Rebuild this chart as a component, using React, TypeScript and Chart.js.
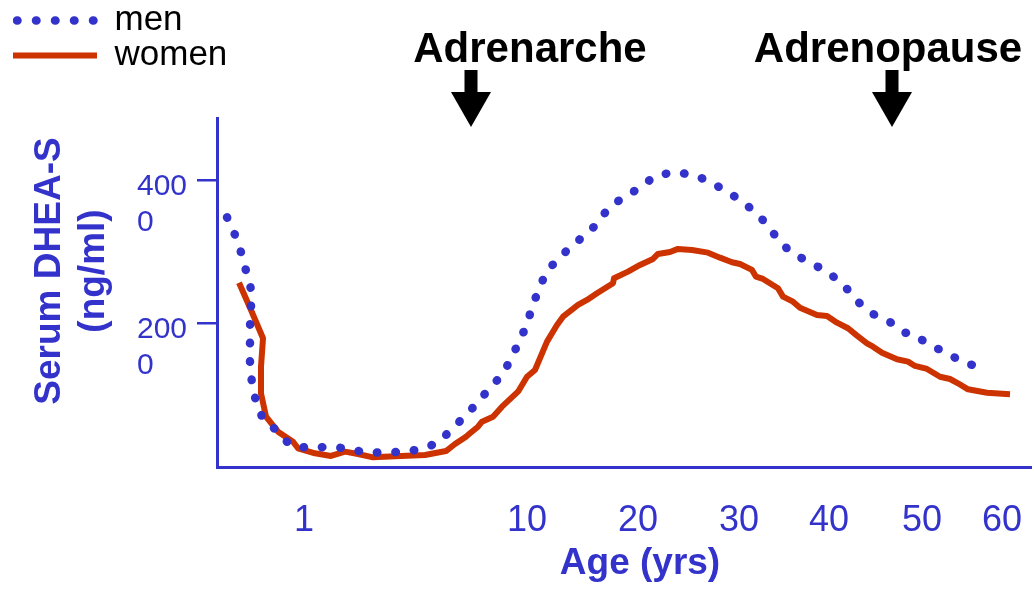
import React, { useEffect, useRef } from 'react';
import { Chart, registerables } from 'chart.js';

Chart.register(...registerables);

// ---- data (x = position along the non-linear age axis, y = serum DHEA-S) ----
const seriesNames = ['men', 'women'];

const menAgePos = [10, 18, 24, 29, 34, 34, 33, 33, 33, 35, 39, 46, 61, 73, 93, 110, 129, 148, 167, 186, 204, 221, 234, 248, 260, 272, 285, 294, 302, 310, 315, 322, 329, 342, 356, 370, 381, 391, 406, 424, 437, 455, 474, 492, 508, 525, 536, 551, 561, 574, 590, 607, 622, 632, 642, 656, 674, 688, 697, 712, 730, 746, 765];
const menDhea = [3485, 3238, 2997, 2740, 2480, 2223, 1958, 1693, 1433, 1168, 911, 670, 493, 307, 261, 283, 261, 205, 200, 214, 247, 339, 516, 712, 889, 1089, 1284, 1507, 1749, 1986, 2237, 2480, 2717, 2921, 3094, 3266, 3401, 3611, 3759, 3904, 4052, 4113, 4085, 3992, 3856, 3713, 3577, 3378, 3168, 2997, 2875, 2750, 2600, 2456, 2293, 2135, 2014, 1874, 1852, 1703, 1595, 1456, 1392];

const womenAgePos = [22, 34, 46, 44, 44, 49, 61, 76, 81, 98, 114, 128, 141, 156, 184, 208, 229, 238, 249, 253, 261, 265, 276, 285, 301, 310, 318, 330, 340, 346, 361, 370, 380, 388, 396, 397, 411, 423, 436, 441, 453, 461, 475, 491, 503, 515, 523, 535, 539, 546, 561, 566, 576, 583, 600, 610, 620, 631, 640, 650, 656, 665, 680, 691, 698, 710, 723, 733, 741, 751, 770, 793];
const womenDhea = [2572, 2191, 1796, 1400, 1029, 702, 493, 353, 261, 191, 154, 214, 181, 135, 154, 167, 223, 321, 423, 470, 562, 632, 702, 842, 1051, 1260, 1354, 1749, 1982, 2098, 2261, 2331, 2424, 2494, 2564, 2634, 2726, 2819, 2903, 2973, 3001, 3043, 3029, 2991, 2921, 2857, 2833, 2750, 2656, 2624, 2494, 2377, 2307, 2223, 2121, 2108, 2014, 1936, 1833, 1726, 1679, 1595, 1503, 1470, 1410, 1368, 1260, 1228, 1168, 1084, 1037, 1015];

const xTickPositions = [87, 310, 421, 522, 612, 705, 785];
const xTickLabels = ['1', '10', '20', '30', '40', '50', '60'];
const yTickValues = [2000, 4000];
const yTickLabels = [['200', '0'], ['400', '0']];

const annotationLabels = ['Adrenarche', 'Adrenopause'];
const annotationArrowPos = [254, 675];
const annotationTextPos = [313, 671];

const yTitleLines = ['Serum DHEA-S', '(ng/ml)'];
const xTitle = 'Age (yrs)';

const BLUE = '#3333cc';
const RED = '#cc3300';
const FONT = "'Liberation Sans', Arial, Helvetica, sans-serif";

const legendWidenPlugin = {
  id: 'legendWiden',
  afterLayout(chart: any) {
    const l = chart.legend;
    if (l) {
      l.width = 240;
      l.right = l.left + 240;
    }
  },
};

const overlayPlugin = {
  id: 'overlay',
  afterDraw(chart: any) {
    const { ctx, chartArea, scales } = chart;
    const x = scales.x;
    const top = chartArea.top;
    ctx.save();
    // annotations
    ctx.fillStyle = '#000';
    ctx.font = `bold 42px ${FONT}`;
    ctx.textAlign = 'center';
    ctx.textBaseline = 'alphabetic';
    annotationLabels.forEach((label, i) => {
      const tx = x.getPixelForValue(annotationTextPos[i]);
      ctx.fillText(label, tx, top - 56);
      const ax = x.getPixelForValue(annotationArrowPos[i]);
      ctx.fillRect(ax - 6.5, top - 48, 13, 23);
      ctx.beginPath();
      ctx.moveTo(ax - 20, top - 26);
      ctx.lineTo(ax + 20, top - 26);
      ctx.lineTo(ax, top + 9);
      ctx.closePath();
      ctx.fill();
    });
    // y title
    ctx.fillStyle = BLUE;
    ctx.font = `bold 37px ${FONT}`;
    ctx.textBaseline = 'middle';
    const yc = top + 153;
    ctx.save();
    ctx.translate(50, yc);
    ctx.rotate(-Math.PI / 2);
    ctx.fillText(yTitleLines[0], 0, 0);
    ctx.restore();
    ctx.save();
    ctx.translate(94, yc);
    ctx.rotate(-Math.PI / 2);
    ctx.fillText(yTitleLines[1], 0, 0);
    ctx.restore();
    // x title
    ctx.fillText(xTitle, 640, chartArea.bottom + 97);
    ctx.restore();
  },
};

export default function App() {
  const ref = useRef<HTMLCanvasElement | null>(null);

  useEffect(() => {
    document.body.style.margin = '0';
    document.body.style.overflow = 'hidden';
    const canvas = ref.current;
    if (!canvas) return;

    const chart = new Chart(canvas, {
      type: 'line',
      data: {
        datasets: [
          {
            label: seriesNames[0],
            data: menAgePos.map((v, i) => ({ x: v, y: menDhea[i] })),
            xAxisID: 'x',
            yAxisID: 'y',
            borderColor: BLUE,
            backgroundColor: BLUE,
            borderWidth: 8.5,
            borderDash: [0.5, 18],
            borderCapStyle: 'round',
            borderJoinStyle: 'round',
            pointRadius: 0,
            tension: 0,
            fill: false,
          },
          {
            label: seriesNames[1],
            data: womenAgePos.map((v, i) => ({ x: v, y: womenDhea[i] })),
            xAxisID: 'x',
            yAxisID: 'y',
            borderColor: RED,
            backgroundColor: RED,
            borderWidth: 6,
            borderJoinStyle: 'round',
            pointRadius: 0,
            tension: 0,
            fill: false,
          },
        ],
      },
      options: {
        responsive: false,
        animation: false,
        events: [],
        layout: { padding: { left: 13, right: 3, top: 3, bottom: 0 } },
        font: { family: FONT },
        plugins: {
          tooltip: { enabled: false },
          legend: {
            display: true,
            position: 'left',
            align: 'start',
            maxWidth: 124,
            labels: {
              usePointStyle: true,
              pointStyleWidth: 84,
              padding: 0,
              color: '#000',
              font: { size: 35, family: FONT },
              generateLabels: (c: any) =>
                c.data.datasets.map((ds: any, i: number) => ({
                  text: ds.label,
                  fillStyle: 'rgba(0,0,0,0)',
                  strokeStyle: ds.borderColor,
                  lineWidth: i === 0 ? 8.5 : 6,
                  lineDash: i === 0 ? [0.5, 18.5] : [],
                  lineDashOffset: i === 0 ? -4 : 0,
                  lineCap: i === 0 ? 'round' : 'butt',
                  pointStyle: 'line',
                  hidden: false,
                  datasetIndex: i,
                })),
            },
          },
        },
        scales: {
          x: {
            type: 'linear',
            position: 'bottom',
            min: 0,
            max: 814,
            grid: { display: false },
            border: { display: true, color: BLUE, width: 3 },
            afterBuildTicks: (s: any) => {
              s.ticks = xTickPositions.map((v) => ({ value: v }));
            },
            afterFit: (s: any) => {
              s.height = 123;
              s.paddingLeft = 0;
              s.paddingRight = 0;
            },
            ticks: {
              autoSkip: false,
              maxRotation: 0,
              padding: 24,
              color: BLUE,
              font: { size: 36, family: FONT },
              callback: (v: any) => {
                const i = xTickPositions.indexOf(Number(v));
                return i >= 0 ? xTickLabels[i] : '';
              },
            },
          },
          xTop: {
            type: 'linear',
            position: 'top',
            display: true,
            grid: { display: false },
            border: { display: false },
            ticks: { display: false },
            afterFit: (s: any) => {
              s.height = 115;
              s.paddingLeft = 0;
              s.paddingRight = 0;
            },
          },
          y: {
            type: 'linear',
            position: 'left',
            min: 0,
            max: 4870,
            grid: {
              display: true,
              drawOnChartArea: false,
              drawTicks: true,
              tickLength: 20,
              color: BLUE,
              lineWidth: 2.5,
            },
            border: { display: true, color: BLUE, width: 3 },
            afterBuildTicks: (s: any) => {
              s.ticks = yTickValues.map((v) => ({ value: v }));
            },
            afterFit: (s: any) => {
              s.width = 80;
              s.paddingTop = 0;
              s.paddingBottom = 0;
            },
            ticks: {
              crossAlign: 'far',
              labelOffset: 24,
              color: BLUE,
              font: { size: 30, family: FONT, lineHeight: 1.2 },
              callback: (v: any) => {
                const i = yTickValues.indexOf(Number(v));
                return i >= 0 ? yTickLabels[i] : '';
              },
            },
          },
        },
      } as any,
      plugins: [legendWidenPlugin, overlayPlugin],
    });

    return () => chart.destroy();
  }, []);

  return (
    <div style={{ width: 1034, height: 590, position: 'relative', background: '#fff' }}>
      <canvas ref={ref} width={1034} height={590} style={{ display: 'block' }} />
    </div>
  );
}
